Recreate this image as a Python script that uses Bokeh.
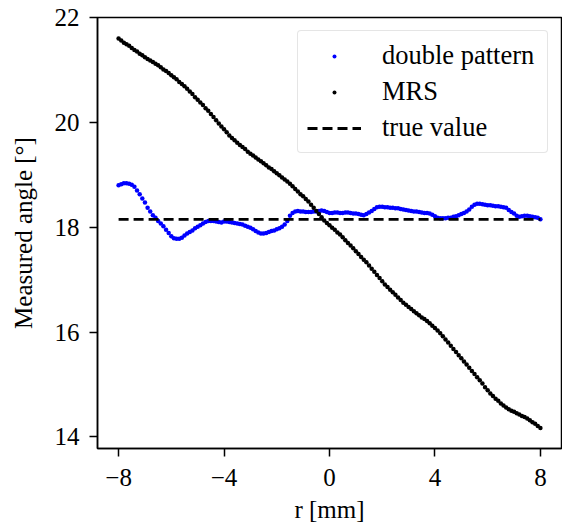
from bokeh.plotting import figure
from bokeh.models import Range1d, FixedTicker, Legend, LegendItem, ColumnDataSource
from bokeh.embed import file_html
from bokeh.resources import INLINE

# r positions (mm), 0.1 mm grid from -8 to 8
r = [round(i / 10, 1) for i in range(-80, 81)]

mrs = [
    21.60, 21.56, 21.52, 21.49, 21.46, 21.42, 21.38, 21.35, 21.31, 21.28,
    21.24, 21.21, 21.18, 21.15, 21.12, 21.09, 21.05, 21.01, 20.98, 20.94,
    20.90, 20.86, 20.82, 20.77, 20.73, 20.69, 20.64, 20.59, 20.54, 20.48,
    20.43, 20.38, 20.33, 20.27, 20.22, 20.16, 20.10, 20.04, 19.98, 19.92,
    19.87, 19.81, 19.75, 19.70, 19.66, 19.61, 19.57, 19.53, 19.49, 19.44,
    19.40, 19.37, 19.33, 19.29, 19.26, 19.22, 19.18, 19.14, 19.11, 19.07,
    19.03, 18.99, 18.95, 18.91, 18.87, 18.83, 18.78, 18.73, 18.68, 18.63,
    18.59, 18.54, 18.49, 18.43, 18.37, 18.31, 18.25, 18.19, 18.13, 18.08,
    18.04, 17.99, 17.95, 17.90, 17.86, 17.81, 17.75, 17.70, 17.65, 17.60,
    17.54, 17.49, 17.43, 17.38, 17.33, 17.27, 17.21, 17.15, 17.09, 17.03,
    16.97, 16.91, 16.86, 16.81, 16.76, 16.71, 16.66, 16.61, 16.56, 16.52,
    16.48, 16.44, 16.40, 16.36, 16.32, 16.28, 16.25, 16.21, 16.17, 16.12,
    16.08, 16.03, 15.98, 15.92, 15.86, 15.80, 15.74, 15.68, 15.62, 15.56,
    15.50, 15.44, 15.38, 15.32, 15.26, 15.20, 15.14, 15.08, 15.02, 14.95,
    14.89, 14.83, 14.78, 14.73, 14.69, 14.64, 14.60, 14.56, 14.53, 14.50,
    14.48, 14.45, 14.43, 14.40, 14.38, 14.35, 14.32, 14.28, 14.25, 14.21,
    14.17,
]

double_pattern = [
    18.80, 18.82, 18.84, 18.84, 18.83, 18.81, 18.77, 18.70, 18.63, 18.55,
    18.47, 18.37, 18.30, 18.23, 18.18, 18.12, 18.07, 18.02, 17.95, 17.89,
    17.83, 17.79, 17.78, 17.78, 17.80, 17.84, 17.88, 17.91, 17.94, 17.98,
    18.01, 18.04, 18.07, 18.10, 18.12, 18.12, 18.12, 18.11, 18.10, 18.09,
    18.11, 18.11, 18.10, 18.09, 18.08, 18.07, 18.06, 18.05, 18.03, 18.01,
    17.99, 17.96, 17.93, 17.90, 17.88, 17.88, 17.89, 17.91, 17.93, 17.94,
    17.96, 17.98, 18.01, 18.05, 18.12, 18.22, 18.27, 18.30, 18.31, 18.30,
    18.30, 18.29, 18.29, 18.29, 18.30, 18.30, 18.31, 18.32, 18.31, 18.29,
    18.27, 18.27, 18.28, 18.28, 18.27, 18.27, 18.28, 18.28, 18.27, 18.26,
    18.26, 18.25, 18.24, 18.23, 18.25, 18.28, 18.31, 18.35, 18.38, 18.39,
    18.39, 18.38, 18.38, 18.37, 18.37, 18.36, 18.36, 18.35, 18.34, 18.33,
    18.32, 18.31, 18.30, 18.30, 18.29, 18.28, 18.27, 18.27, 18.26, 18.24,
    18.21, 18.18, 18.17, 18.17, 18.17, 18.18, 18.18, 18.20, 18.21, 18.23,
    18.25, 18.27, 18.30, 18.34, 18.39, 18.43, 18.45, 18.45, 18.44, 18.43,
    18.42, 18.42, 18.41, 18.40, 18.40, 18.39, 18.38, 18.37, 18.33, 18.29,
    18.26, 18.22, 18.20, 18.21, 18.22, 18.22, 18.21, 18.20, 18.19, 18.18,
    18.15,
]

true_value = 18.15
true_x = [-8, 8]
true_y = [true_value, true_value]

x_ticks = [-8, -4, 0, 4, 8]
x_tick_labels = ["\u22128", "\u22124", "0", "4", "8"]
y_ticks = [14, 16, 18, 20, 22]

FONT = "Liberation Serif"
FS = "25px"
LFS = "26.5px"

p = figure(
    width=562, height=525,
    output_backend="svg", toolbar_location=None,
    x_range=Range1d(-8.8, 8.8), y_range=Range1d(13.78, 22.0),
    min_border_left=97, min_border_right=1, min_border_top=17, min_border_bottom=76,
)
p.background_fill_color = "white"
p.border_fill_color = "white"
p.grid.visible = False
p.outline_line_color = "black"
p.outline_line_width = 1.5
p.outline_line_alpha = 1.0

for ax in (p.xaxis[0], p.yaxis[0]):
    ax.axis_line_width = 1.5
    ax.major_tick_line_width = 1.5
    ax.major_tick_out = 8
    ax.major_tick_in = 0
    ax.minor_tick_line_color = None
    ax.major_label_text_font = FONT
    ax.major_label_text_font_size = FS
    ax.major_label_text_color = "black"
    ax.axis_label_text_font = FONT
    ax.axis_label_text_font_size = FS
    ax.axis_label_text_font_style = "normal"
    ax.axis_label_text_color = "black"

p.xaxis.ticker = FixedTicker(ticks=x_ticks)
p.xaxis.major_label_overrides = {t: l for t, l in zip(x_ticks, x_tick_labels)}
p.yaxis.ticker = FixedTicker(ticks=y_ticks)
p.xaxis.axis_label = "r [mm]"
p.yaxis.axis_label = "Measured angle [\u00b0]"
p.xaxis.major_label_standoff = 12
p.yaxis.major_label_standoff = 10
p.xaxis.axis_label_standoff = 7
p.yaxis.axis_label_standoff = 15

src = ColumnDataSource(dict(r=r, mrs=mrs, dp=double_pattern))
r_dp = p.scatter("r", "dp", source=src, size=4.5, color="#0000ff", line_width=0)
r_mrs = p.scatter("r", "mrs", source=src, size=4.5, color="black", line_width=0)
r_true = p.line(true_x, true_y, line_color="black", line_width=2.8, line_dash="10 5")

legend = Legend(items=[
    LegendItem(label="double pattern", renderers=[r_dp]),
    LegendItem(label="MRS", renderers=[r_mrs]),
    LegendItem(label="true value", renderers=[r_true]),
])
legend.location = "top_right"
legend.margin = 13
legend.padding = 9
legend.spacing = 5
legend.glyph_width = 54
legend.glyph_height = 10
legend.label_height = 28
legend.label_width = 156
legend.label_standoff = 21
legend.label_text_font = FONT
legend.label_text_font_size = LFS
legend.label_text_color = "black"
legend.border_line_color = "#cccccc"
legend.border_line_width = 1.5
legend.border_radius = 4
legend.background_fill_color = "white"
legend.background_fill_alpha = 0.8
p.add_layout(legend, "center")

open("out.html", "w").write(file_html(p, INLINE))
